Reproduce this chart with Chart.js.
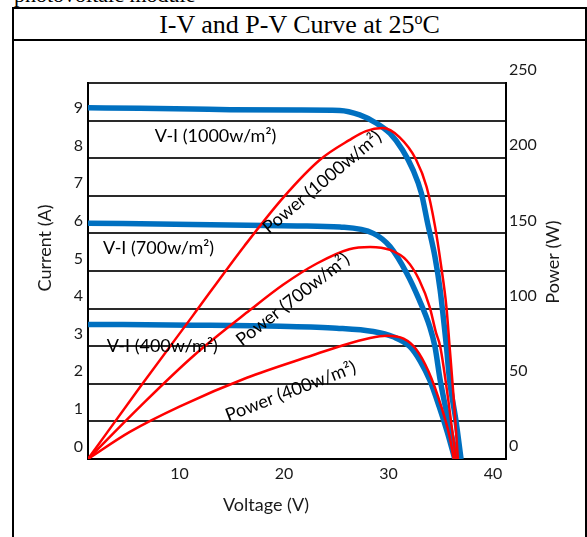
<!DOCTYPE html>
<html>
<head>
<meta charset="utf-8">
<title>I-V and P-V Curve at 25°C</title>
<script src="https://cdn.jsdelivr.net/npm/chart.js@4.4.1/dist/chart.umd.min.js"></script>
<style>
    html, body { margin: 0; padding: 0; background: #fff; width: 587px; height: 537px; overflow: hidden; }
    .doc-line {
        position: absolute; left: 14px; top: -16px;
        font-family: "Liberation Serif", "Times New Roman", serif;
        font-size: 22px; line-height: 22px; white-space: nowrap; color: #000;
    }
    .frame {
        position: absolute; left: 12px; top: 7px; width: 571px; height: 540px;
        border: 2px solid #000; border-bottom: none; background: #fff;
    }
    .frame-head {
        height: 30px; border-bottom: 2px solid #000; text-align: center;
        font-family: "Liberation Serif", "Times New Roman", serif;
        font-size: 26px; line-height: 31px; color: #000;
    }
    .frame-head sup { font-size: 16px; line-height: 0; vertical-align: 9px; }
    #chartBox { position: absolute; left: 0; top: 0; width: 587px; height: 537px; }
</style>
</head>
<body>
<div class="doc-line">photovoltaic module</div>
<div class="frame">
    <div class="frame-head">I-V and P-V Curve at 25<sup>o</sup>C</div>
</div>
<div id="chartBox"><canvas id="ivChart" width="587" height="537"></canvas></div>

<script>
// ======================== Data ========================

// tick labels
const voltageTicks = [10, 20, 30, 40];
const currentTicks = [0, 1, 2, 3, 4, 5, 6, 7, 8, 9];
const powerTicks = [0, 50, 100, 150, 200, 250];

// V-I curves: voltage (V) / current (A)
const viV1000 = [0, 5, 10, 13.6, 20, 24.1, 26.0, 27.6, 28.9, 30.1, 31.1, 31.9, 32.5, 33.2, 33.7, 34.1, 34.3, 34.6, 35.2, 35.7];
const viI1000 = [9.34, 9.33, 9.31, 9.29, 9.28, 9.27, 9.15, 8.93, 8.66, 8.22, 7.69, 7.07, 6.27, 5.38, 4.49, 3.52, 2.99, 2.1, 1.04, 0];

const viV700 = [0, 10, 20, 24.1, 27.3, 28.9, 30.5, 31.7, 32.7, 33.2, 33.7, 34.5, 35.3];
const viI700 = [6.27, 6.24, 6.2, 6.17, 6.0, 5.65, 4.94, 4.23, 3.52, 2.99, 2.1, 1.0, 0];

const viV400 = [0, 10, 18.4, 23.8, 27.3, 29.2, 30.8, 31.8, 32.7, 33.6, 34.4, 35.1];
const viI400 = [3.58, 3.56, 3.53, 3.48, 3.39, 3.25, 2.99, 2.6, 2.1, 1.4, 0.7, 0];

// P-V curves: voltage (V) / power (W)
const pvV1000 = [0, 5, 10, 15, 18.7, 22.2, 25.0, 26.6, 28.2, 29.8, 31.4, 32.4, 33.2, 33.8, 34.3, 34.6, 35.0, 35.4];
const pvP1000 = [0, 48, 95, 142, 174, 199, 212, 218, 220, 214, 199, 181, 155, 128, 101, 75, 40, 0];

const pvV700 = [0, 5, 10, 15.5, 18.7, 21.9, 25.0, 27.0, 28.9, 30.5, 31.7, 32.7, 33.3, 33.7, 34.5, 35.2];
const pvP700 = [0, 35, 68, 99, 116, 130, 139.5, 141, 139, 132, 119, 101, 84, 75, 38, 0];

const pvV400 = [0, 4.0, 8.8, 15.2, 21.5, 24.1, 27.0, 28.6, 30.2, 31.4, 32.6, 33.8, 34.6, 35.0];
const pvP400 = [0, 18, 35, 54, 69, 75, 80.5, 82, 80, 73, 58, 35, 15, 0];

// ======================== Chart ========================

const toPoints = (xs, ys) => xs.map((x, k) => ({ x: x, y: ys[k] }));

const BLUE = '#0070c0';
const RED = '#ff0000';
const LABEL_FONT = 'Lato, "Open Sans", sans-serif';

function powerSet(label, xs, ys) {
    return {
        label: label, data: toPoints(xs, ys), yAxisID: 'yP',
        borderColor: RED, borderWidth: 2.5, order: 0
    };
}

function currentSet(label, xs, ys) {
    return {
        label: label, data: toPoints(xs, ys), yAxisID: 'yI',
        borderColor: BLUE, borderWidth: 5.5, order: 1
    };
}

// text written along the curves, placed in data units
const curveNotes = [
    { text: 'V-I (1000w/m²)', x: 12.2, y: 8.59, axis: 'yI', angle: 0 },
    { text: 'V-I (700w/m²)', x: 6.75, y: 5.6, axis: 'yI', angle: 0 },
    { text: 'V-I (400w/m²)', x: 7.1, y: 3.0, axis: 'yI', angle: 0 },
    { text: 'Power (1000w/m²)', x: 22.4, y: 184, axis: 'yP', angle: -40 },
    { text: 'Power (700w/m²)', x: 19.6, y: 106, axis: 'yP', angle: -38 },
    { text: 'Power (400w/m²)', x: 19.4, y: 45, axis: 'yP', angle: -21 }
];

const curveNotesPlugin = {
    id: 'curveNotes',
    afterDatasetsDraw(chart) {
        const ctx = chart.ctx;
        const xs = chart.scales.x;
        ctx.save();
        ctx.fillStyle = '#000';
        ctx.font = '18px ' + LABEL_FONT;
        ctx.textAlign = 'center';
        ctx.textBaseline = 'middle';
        curveNotes.forEach(n => {
            const px = xs.getPixelForValue(n.x);
            const py = chart.scales[n.axis].getPixelForValue(n.y);
            ctx.save();
            ctx.translate(px, py);
            ctx.rotate(n.angle * Math.PI / 180);
            ctx.fillText(n.text, 0, 0);
            ctx.restore();
        });
        ctx.restore();
    }
};

// axis titles (the right one reads bottom-to-top like the left one)
const axisTitlesPlugin = {
    id: 'axisTitles',
    afterDraw(chart) {
        const { ctx, chartArea } = chart;
        const midY = (chartArea.top + chartArea.bottom) / 2;
        const midX = (chartArea.left + chartArea.right) / 2;
        ctx.save();
        ctx.fillStyle = '#1a1a1a';
        ctx.font = '18px ' + LABEL_FONT;
        ctx.textAlign = 'center';
        ctx.textBaseline = 'middle';

        ctx.fillText('Voltage (V)', midX - 31, chartArea.bottom + 46);

        ctx.save();
        ctx.translate(chartArea.left - 43, midY - 23);
        ctx.rotate(-Math.PI / 2);
        ctx.fillText('Current (A)', 0, 0);
        ctx.restore();

        ctx.save();
        ctx.translate(chartArea.right + 47, midY - 9);
        ctx.rotate(-Math.PI / 2);
        ctx.fillText('Power (W)', 0, 0);
        ctx.restore();
        ctx.restore();
    }
};

const tickFont = { family: LABEL_FONT, size: 16 };

new Chart(document.getElementById('ivChart'), {
    type: 'line',
    data: {
        datasets: [
            powerSet('Power (1000w/m²)', pvV1000, pvP1000),
            powerSet('Power (700w/m²)', pvV700, pvP700),
            powerSet('Power (400w/m²)', pvV400, pvP400),
            currentSet('V-I (1000w/m²)', viV1000, viI1000),
            currentSet('V-I (700w/m²)', viV700, viI700),
            currentSet('V-I (400w/m²)', viV400, viI400)
        ]
    },
    options: {
        responsive: false,
        animation: false,
        layout: { padding: { top: 83, left: 0, right: 0, bottom: 0 } },
        elements: {
            point: { radius: 0, hoverRadius: 0 },
            line: { cubicInterpolationMode: 'monotone', fill: false }
        },
        plugins: {
            legend: { display: false },
            tooltip: { enabled: false }
        },
        scales: {
            x: {
                type: 'linear', min: 0, max: 40,
                afterFit: s => { s.height = 78; },
                grid: { display: false, drawTicks: false },
                border: { display: true, color: '#000', width: 2 },
                ticks: {
                    stepSize: 10, autoSkip: false, maxRotation: 0,
                    labelOffset: -13, padding: 5, color: '#1a1a1a', font: tickFont,
                    callback: v => voltageTicks.includes(v) ? String(v) : ''
                }
            },
            yI: {
                type: 'linear', position: 'left', min: 0, max: 10,
                afterFit: s => { s.width = 88; },
                grid: { color: '#2a2a2a', lineWidth: 2, drawTicks: false },
                border: { display: true, color: '#000', width: 2 },
                ticks: {
                    stepSize: 1, autoSkip: false,
                    labelOffset: -12.5, padding: 5, color: '#1a1a1a', font: tickFont,
                    callback: v => currentTicks.includes(v) ? String(v) : ''
                }
            },
            yP: {
                type: 'linear', position: 'right', min: 0, max: 250,
                afterFit: s => { s.width = 81; },
                grid: { display: false, drawTicks: false },
                border: { display: true, color: '#000', width: 2 },
                ticks: {
                    stepSize: 25, autoSkip: false,
                    labelOffset: -13, padding: 3, color: '#1a1a1a', font: tickFont,
                    callback: v => powerTicks.includes(v) ? String(v) : ''
                }
            }
        }
    },
    plugins: [curveNotesPlugin, axisTitlesPlugin]
});
</script>
</body>
</html>
